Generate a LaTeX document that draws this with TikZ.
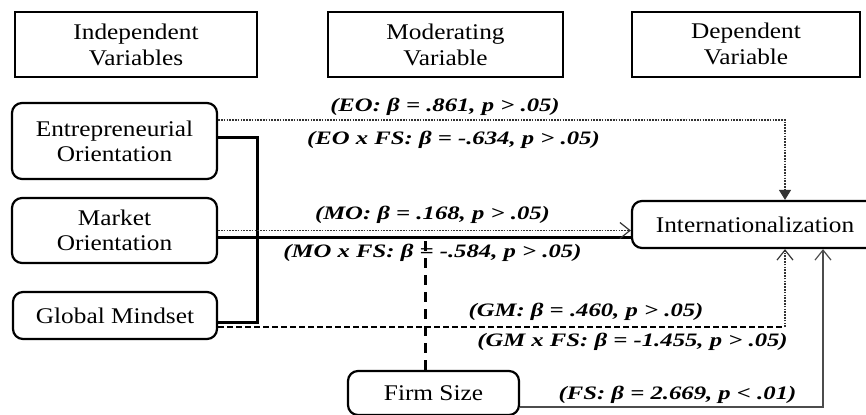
\documentclass[tikz,border=0pt]{standalone}
\usepackage{fontspec}
\setmainfont{Liberation Serif}
\newfontfamily\boxfont[FakeStretch=1.13]{Liberation Serif}
\newfontfamily\coeffont[FakeStretch=1.3]{Liberation Serif}
\usetikzlibrary{calc, arrows.meta, positioning}
\tikzset{
    >={Straight Barb[length=5pt, width=8pt]},
    hdr/.style={draw, line width=1pt, inner sep=0pt, minimum height=32.5pt, align=center,
        font=\boxfont\fontsize{11.2}{13}\selectfont},
    varbox/.style={draw, line width=1.1pt, rounded corners=5pt, inner sep=0pt, align=center,
        font=\boxfont\fontsize{11.2}{12.5}\selectfont},
    coef/.style={inner sep=0pt, font=\coeffont\bfseries\itshape\fontsize{9.5}{11}\selectfont},
    thickline/.style={line width=1.5pt},
    dotline/.style={line width=0.6pt, dash pattern=on 0.8pt off 0.6pt, black!80},
    gmdash/.style={line width=0.9pt, dash pattern=on 3pt off 1.5pt},
    fsdash/.style={line width=1.5pt, dash pattern=on 5pt off 3.5pt},
    fsline/.style={line width=0.6pt, black!70}
}

\begin{document}
\begin{tikzpicture}[x=0.5pt, y=-0.5pt]
    \useasboundingbox (0,0) rectangle (866,414);

    % Column headings
    \node[hdr, minimum width=121pt] (hind) at (136,44.5) {Independent\\Variables};
    \node[hdr, minimum width=117.5pt] (hmod) at (445.5,44.5) {Moderating\\Variable};
    \node[hdr, minimum width=114pt] (hdep) at (746,44) {Dependent\\Variable};

    % Variables
    \node[varbox, minimum width=102.5pt, minimum height=38pt] (eo) at (114.5,141) {Entrepreneurial\\Orientation};
    \node[varbox, minimum width=102.5pt, minimum height=32.5pt] (mo) at (114.5,230.5) {Market\\Orientation};
    \node[varbox, minimum width=102pt, minimum height=23.5pt] (gm) at (115,315.5) {Global Mindset};
    \node[varbox, minimum width=123pt, minimum height=23.5pt] (intl) at (755,224.5) {Internationalization};
    \node[varbox, minimum width=85.5pt, minimum height=22pt] (fs) at (433.5,393) {Firm Size};

    % Helper points
    \coordinate (mothick) at ([yshift=-3.25pt]mo.east);
    \coordinate (knot) at (257,322);
    \coordinate (gmout) at ([yshift=-5.75pt]gm.east);
    \coordinate (gmin) at ([xshift=15pt]intl.south);
    \coordinate (gmturn) at (gmout -| gmin);

    % Paths
    \draw[dotline, -{Triangle[length=5pt, width=6pt]}] ([yshift=10.5pt]eo.east) -| ([xshift=15pt]intl.north);
    \draw[thickline] ([yshift=2pt]eo.east) -| (knot) -- (knot -| gm.east);
    \draw[thickline] (mothick) -- (mothick -| intl.west);
    \draw[dotline, ->] (mo.east) -- (mo.east -| intl.west);
    \draw[gmdash] (gmout) -- (gmturn);
    \draw[dotline, ->] (gmturn) -- (gmin);
    \draw[fsdash] ([xshift=-4.25pt]fs.north) -- ([xshift=-4.25pt]fs.north |- mothick);
    \draw[fsline, ->] ([yshift=-7pt]fs.east) -| ([xshift=34pt]intl.south);

    % Coefficients
    \node[coef] (ceo) at (445,107) {(EO: β = .861, p > .05)};
    \node[coef] (ceofs) at (453.5,140) {(EO x FS: β = -.634, p > .05)};
    \node[coef] (cmo) at (432.5,215) {(MO: β = .168, p > .05)};
    \node[coef] (cmofs) at (432.5,253) {(MO x FS: β = -.584, p > .05)};
    \node[coef] (cgm) at (586,312) {(GM: β = .460, p > .05)};
    \node[coef] (cgmfs) at (632.5,342) {(GM x FS: β = -1.455, p > .05)};
    \node[coef] (cfs) at (677.5,395) {(FS: β = 2.669, p < .01)};
\end{tikzpicture}
\end{document}
